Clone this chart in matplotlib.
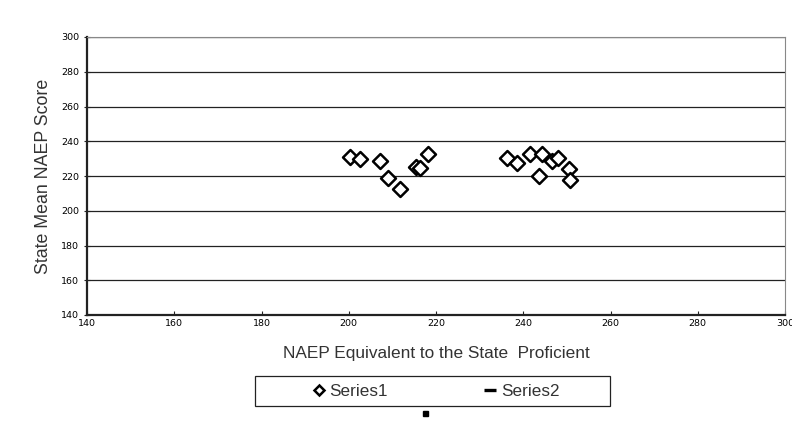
import matplotlib
matplotlib.use("Agg")
import matplotlib.pyplot as plt
from matplotlib.patches import Rectangle
from matplotlib.lines import Line2D

x_vals = [200.3, 202.6, 207.2, 208.9, 211.7, 215.5, 216.3, 218.2,
          236.2, 238.5, 241.6, 244.2, 243.6, 246.7, 248.0, 250.6, 250.7]
y_vals = [230.8, 229.8, 228.8, 219.0, 212.5, 225.4, 224.8, 232.5,
          230.5, 227.3, 232.7, 232.5, 220.2, 228.6, 230.5, 224.0, 217.7]
x_ticks = [140, 160, 180, 200, 220, 240, 260, 280, 300]
y_ticks = [140, 160, 180, 200, 220, 240, 260, 280, 300]

fig = plt.figure(figsize=(7.92, 4.21), dpi=100)
ax = fig.add_axes([87/792, 1-315/421, (785-87)/792, (315-37)/421])

ax.scatter(x_vals, y_vals, marker='D', s=58, facecolors='white',
           edgecolors='black', linewidths=1.8, zorder=3, label='Series1')

ax.set_xlim(140, 300)
ax.set_ylim(140, 300)
ax.set_xticks(x_ticks)
ax.set_yticks(y_ticks)
ax.yaxis.grid(True, color='#222222', linewidth=0.9)
ax.set_axisbelow(True)
tick_font = dict(family=['Liberation Sans Narrow', 'DejaVu Sans'], size=6.8)
ax.set_xticklabels([str(t) for t in x_ticks], **tick_font)
ax.set_yticklabels([str(t) for t in y_ticks], **tick_font)
ax.tick_params(axis='both', direction='out', length=3, width=0.8, color='#222222', pad=3)
ax.tick_params(axis='y', direction='inout', length=5)
ax.tick_params(axis='x', direction='in', length=3)
for s in ['left', 'bottom']:
    ax.spines[s].set_color('#222222')
    ax.spines[s].set_linewidth(1.6)
for s in ['top', 'right']:
    ax.spines[s].set_color('#888888')
    ax.spines[s].set_linewidth(0.8)

ax.set_xlabel('NAEP Equivalent to the State  Proficient', labelpad=13,
              family=['Liberation Sans', 'DejaVu Sans'], size=12.4, color='#333333')
ax.set_ylabel('State Mean NAEP Score', labelpad=7,
              family=['Liberation Sans', 'DejaVu Sans'], size=12.8, color='#333333')

# legend frame
fig.add_artist(Rectangle((255/792, 1-406/421), (610-255)/792, 30/421,
                         transform=fig.transFigure, fill=False,
                         edgecolor='#222222', linewidth=0.9))
handles = [Line2D([], [], marker='D', linestyle='none', markerfacecolor='white',
                  markeredgecolor='black', markeredgewidth=1.8, markersize=5),
           Line2D([], [], marker='_', linestyle='none', color='black',
                  markeredgewidth=2.4, markersize=8)]
leg = fig.legend(handles, ['Series1', 'Series2'], loc='center',
                 bbox_to_anchor=(436/792, 1-391/421), ncol=2,
                 frameon=False, handlelength=0.7, handletextpad=0.3,
                 columnspacing=5.6, borderpad=0.2,
                 prop=dict(family='Liberation Sans', size=12.3))
for t in leg.get_texts():
    t.set_color('#333333')

fig.add_artist(Rectangle((423/792, 1-416/421), 5/792, 5/421,
                         transform=fig.transFigure, color='black'))

fig.savefig('out.png', dpi=100, facecolor='white')
